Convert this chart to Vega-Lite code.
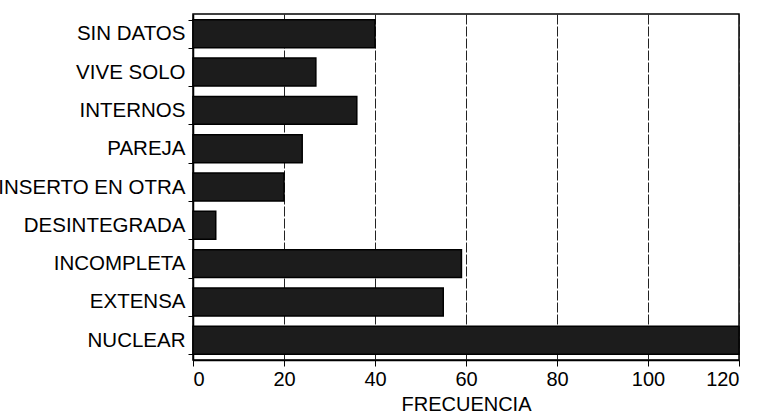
{
  "$schema": "https://vega.github.io/schema/vega-lite/v6.json",
  "autosize": "none",
  "width": 546,
  "height": 346,
  "padding": {"left": 193, "top": 14, "right": 19, "bottom": 57},
  "background": "white",
  "data": {"values": [
    {"categoria": "SIN DATOS", "frecuencia": 40},
    {"categoria": "VIVE SOLO", "frecuencia": 27},
    {"categoria": "INTERNOS", "frecuencia": 36},
    {"categoria": "PAREJA", "frecuencia": 24},
    {"categoria": "INSERTO EN OTRA", "frecuencia": 20},
    {"categoria": "DESINTEGRADA", "frecuencia": 5},
    {"categoria": "INCOMPLETA", "frecuencia": 59},
    {"categoria": "EXTENSA", "frecuencia": 55},
    {"categoria": "NUCLEAR", "frecuencia": 120}
  ]},
  "config": {
    "view": {"stroke": "black", "strokeWidth": 1.5},
    "font": "Liberation Sans"
  },
  "mark": {"type": "bar", "fill": "#1c1c1c", "stroke": "black", "strokeWidth": 1.5},
  "encoding": {
    "y": {
      "field": "categoria", "type": "nominal", "sort": null,
      "scale": {"paddingInner": 0.27, "paddingOuter": 0.15},
      "axis": {
        "title": null, "labelFontSize": 20.5, "labelFontWeight": 500, "labelColor": "black", "labelPadding": 3,
        "domainColor": "black", "domainWidth": 1.5, "tickColor": "black", "tickSize": 5,
        "tickBand": "extent", "labelLimit": 400
      }
    },
    "x": {
      "field": "frecuencia", "type": "quantitative",
      "scale": {"domain": [0, 120], "nice": false},
      "axis": {
        "title": "FRECUENCIA", "titleFontSize": 20, "titleFontWeight": 500, "titleColor": "black",
        "titlePadding": 5,
        "values": [0, 20, 40, 60, 80, 100, 120],
        "labelFontSize": 20, "labelFontWeight": 500, "labelColor": "black", "labelPadding": 3,
        "domainColor": "black", "domainWidth": 1.5, "tickColor": "black", "tickSize": 6,
        "grid": true, "gridColor": "#222222", "gridWidth": 1, "gridDash": [10, 2]
      }
    }
  }
}
